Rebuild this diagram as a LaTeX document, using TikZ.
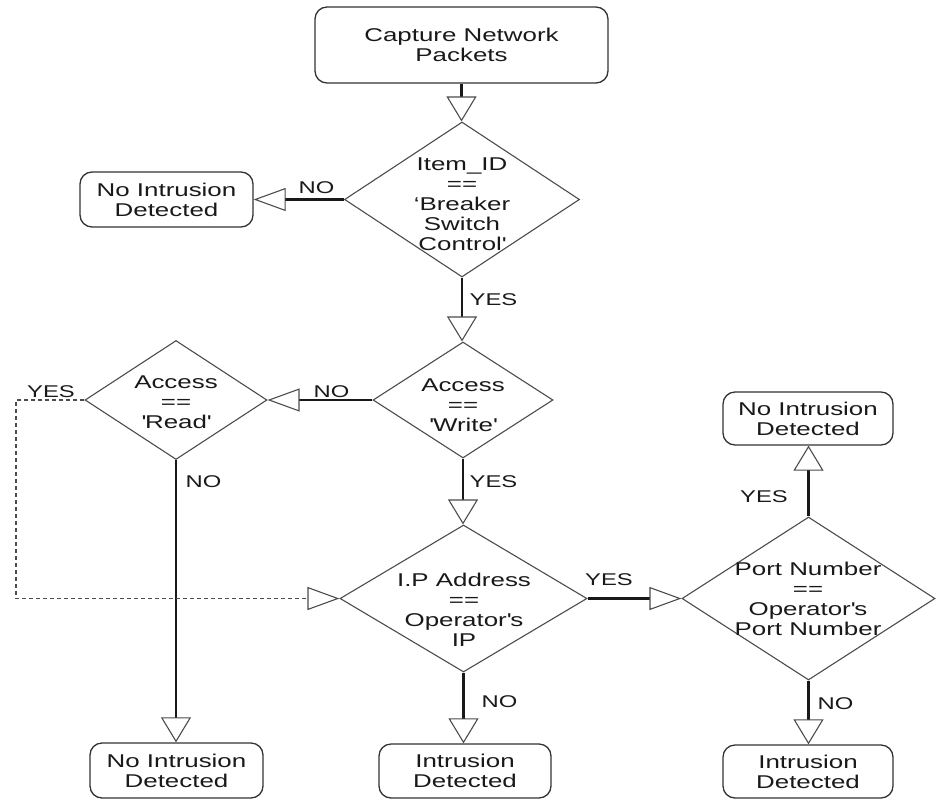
\documentclass[tikz,border=0pt]{standalone}
\usepackage{fontspec}
\setmainfont{Liberation Sans}[FakeStretch=1.4]
\usetikzlibrary{shapes.geometric, arrows.meta}

\tikzset{
  every node/.style={font=\fontsize{18.5}{20}\selectfont, text=black!90},
  terminal/.style={draw=black!80, line width=1.3pt, rounded corners=12pt,
    inner sep=0pt, align=center, fill=white},
  decision/.style={diamond, draw=black!70, line width=1.1pt, inner sep=0pt},
  dtext/.style={align=center, inner sep=0pt},
  lbl/.style={inner sep=0pt, font=\fontsize{17}{19}\selectfont},
  flow/.style={line width=2.6pt, draw=black!90},
  vtip/.style={-{Triangle[open, length=25pt, width=30pt, line width=1.1pt, color=black!70]}},
  htip/.style={-{Triangle[open, length=32pt, width=23pt, line width=1.1pt, color=black!70]}},
  dashflow/.style={line width=1.3pt, draw=black!70, dash pattern=on 4pt off 3pt},
}

\begin{document}
\begin{tikzpicture}[x=1pt, y=-1pt]
  \useasboundingbox (0,0) rectangle (936,800);

  % terminals
  \node[terminal, minimum width=293pt, minimum height=76pt] (start) at (461.5,45) {Capture Network\\Packets};
  \node[terminal, minimum width=173pt, minimum height=55pt] (nid1) at (166.5,199.5) {No Intrusion\\Detected};
  \node[terminal, minimum width=173pt, minimum height=55pt] (nid2) at (176.5,770.5) {No Intrusion\\Detected};
  \node[terminal, minimum width=172pt, minimum height=54pt] (id1) at (465,771) {Intrusion\\Detected};
  \node[terminal, minimum width=170pt, minimum height=53pt] (nid3) at (808,418.5) {No Intrusion\\Detected};
  \node[terminal, minimum width=170pt, minimum height=53pt] (id2) at (808,771.5) {Intrusion\\Detected};

  % decisions
  \node[decision, minimum width=235pt, minimum height=155pt] (d1) at (462,199.5) {};
  \node[dtext] (t1) at (462,204) {Item\_ID\\==\\‘Breaker\\Switch\\Control\textquotesingle};

  \node[decision, minimum width=180pt, minimum height=116pt] (d2) at (463,400) {};
  \node[dtext] (t2) at (463,405) {Access\\==\\\textquotesingle Write\textquotesingle};

  \node[decision, minimum width=182pt, minimum height=119pt] (d3) at (176,400) {};
  \node[dtext] (t3) at (176,402) {Access\\==\\\textquotesingle Read\textquotesingle};

  \node[decision, minimum width=247pt, minimum height=147pt] (d4) at (463.5,598.5) {};
  \node[dtext] (t4) at (464,610) {I.P Address\\==\\Operator\textquotesingle s\\IP};

  \node[decision, minimum width=253pt, minimum height=163pt] (d5) at (808.5,598.5) {};
  \node[dtext] (t5) at (808,599) {Port Number\\==\\Operator\textquotesingle s\\Port Number};

  \coordinate (bend) at (16,400);

  % connectors
  \draw[flow, vtip] (start.south) -- (start.south |- d1.north);
  \draw[flow, htip] (d1.west) -- (d1.west -| nid1.east);
  \draw[flow, vtip] (d1.south) -- (d1.south |- d2.north);
  \draw[flow, htip] (d2.west) -- (d2.west -| d3.east);
  \draw[flow, vtip] (d2.south) -- (d2.south |- d4.north);
  \draw[flow, vtip] (d3.south) -- (d3.south |- nid2.north);
  \draw[dashflow, htip] (d3.west) -- (bend) |- (d4.west);
  \draw[flow, htip] (d4.east) -- (d4.east -| d5.west);
  \draw[flow, vtip] (d4.south) -- (d4.south |- id1.north);
  \draw[flow, vtip] (d5.north) -- (d5.north |- nid3.south);
  \draw[flow, vtip] (d5.south) -- (d5.south |- id2.north);

  % branch labels
  \node[lbl] (l1) at (316.5,187.5) {NO};
  \node[lbl] (l2) at (493.5,300) {YES};
  \node[lbl] (l3) at (331.5,391.5) {NO};
  \node[lbl] (l4) at (51,391.5) {YES};
  \node[lbl] (l5) at (203.5,481.5) {NO};
  \node[lbl] (l6) at (493.5,481.5) {YES};
  \node[lbl] (l7) at (609,580) {YES};
  \node[lbl] (l8) at (499.5,701.5) {NO};
  \node[lbl] (l9) at (764,496.5) {YES};
  \node[lbl] (l10) at (835.5,703.5) {NO};
\end{tikzpicture}
\end{document}
